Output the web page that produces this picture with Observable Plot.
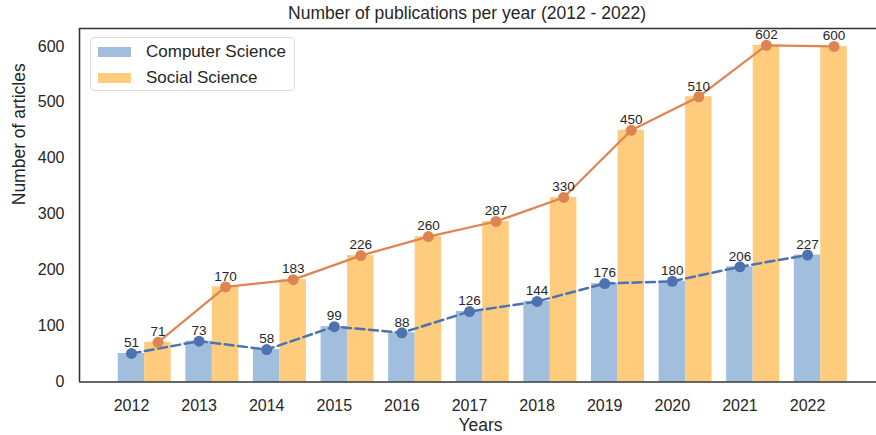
<!DOCTYPE html>
<html>
<head>
<meta charset="utf-8">
<script src="https://cdn.jsdelivr.net/npm/d3@7"></script>
<script src="https://cdn.jsdelivr.net/npm/@observablehq/plot@0.6"></script>
<style>
  html, body { margin: 0; padding: 0; background: #fff; }
  #wrap { position: relative; width: 876px; height: 435px; font-family: "Liberation Sans", Arial, sans-serif; }
  #legend { position: absolute; left: 90px; top: 37px; width: 205px; height: 54px; box-sizing: border-box;
    border: 1px solid #dcdcdc; border-radius: 4px; background: rgba(255,255,255,0.85); }
  .item { position: absolute; left: 0; display: flex; align-items: center; font-size: 17px; color: #262626; }
  .patch { width: 33px; height: 10px; margin-left: 7px; margin-right: 15px; }
</style>
</head>
<body>
<div id="wrap"></div>
<script>
const years = [2012, 2013, 2014, 2015, 2016, 2017, 2018, 2019, 2020, 2021, 2022];
const computerScience = [51, 73, 58, 99, 88, 126, 144, 176, 180, 206, 227];
const socialScience = [71, 170, 183, 226, 260, 287, 330, 450, 510, 602, 600];
const yTicks = [0, 100, 200, 300, 400, 500, 600];
const seriesNames = ["Computer Science", "Social Science"];
const title = "Number of publications per year (2012 - 2022)";

const barColor = {"Computer Science": "#a1bfdd", "Social Science": "#fecc7c"};
const lineColor = {"Computer Science": "#4c72b0", "Social Science": "#dd8452"};

const half = 0.196; // half bar width in year units
const xDomain = [2011.231, 2023.02];
const yDomain = [0, 632];

const cs = years.map((year, i) => ({year, value: computerScience[i], x1: year - half, x2: year + half, xc: year}));
const ss = years.map((year, i) => ({year, value: socialScience[i], x1: year + half, x2: year + 3 * half, xc: year + 2 * half}));

const font = "Liberation Sans, Arial, sans-serif";
const ink = "#262626";

const chart = Plot.plot({
  width: 876,
  height: 435,
  marginLeft: 79,
  marginRight: 0,
  marginTop: 28,
  marginBottom: 53.5,
  style: {fontFamily: font, color: ink, background: "#fff"},
  x: {type: "linear", domain: xDomain, axis: null},
  y: {type: "linear", domain: yDomain, axis: null},
  marks: [
    Plot.rectY(cs, {x1: "x1", x2: "x2", y1: 0, y2: "value", fill: barColor["Computer Science"]}),
    Plot.rectY(ss, {x1: "x1", x2: "x2", y1: 0, y2: "value", fill: barColor["Social Science"]}),
    Plot.line(cs, {x: "xc", y: "value", stroke: lineColor["Computer Science"], strokeWidth: 2.5, strokeDasharray: "9,4.5"}),
    Plot.line(ss, {x: "xc", y: "value", stroke: lineColor["Social Science"], strokeWidth: 2.2}),
    Plot.dot(cs, {x: "xc", y: "value", r: 5.5, fill: lineColor["Computer Science"]}),
    Plot.dot(ss, {x: "xc", y: "value", r: 5.5, fill: lineColor["Social Science"]}),
    Plot.text(cs, {x: "xc", y: "value", text: d => String(d.value), dy: -10.5, fontSize: 13.5, fill: ink}),
    Plot.text(ss, {x: "xc", y: "value", text: d => String(d.value), dy: -10.5, fontSize: 13.5, fill: ink}),
    Plot.ruleY([yDomain[0]], {stroke: "#333", strokeWidth: 1.6}),
    Plot.ruleY([yDomain[1]], {stroke: "#333", strokeWidth: 1.6}),
    Plot.ruleX([xDomain[0]], {stroke: "#333", strokeWidth: 1.6}),
    // tick labels
    Plot.text(years, {x: d => d, frameAnchor: "bottom", lineAnchor: "middle", dy: 23.5, fontSize: 16, fill: ink, text: d => String(d)}),
    Plot.text(yTicks, {y: d => d, frameAnchor: "left", textAnchor: "end", lineAnchor: "middle", dx: -15, fontSize: 16, fill: ink, text: d => String(d)}),
    // axis labels and title
    Plot.text(["Years"], {frameAnchor: "bottom", lineAnchor: "middle", dx: 2.5, dy: 43, fontSize: 17.5, fill: ink}),
    Plot.text(["Number of articles"], {frameAnchor: "left", lineAnchor: "middle", rotate: -90, dx: -60, fontSize: 17.5, fill: ink}),
    Plot.text([title], {frameAnchor: "top", lineAnchor: "middle", dx: -11, dy: -15.5, fontSize: 17.5, fill: ink})
  ]
});

const wrap = document.getElementById("wrap");
wrap.appendChild(chart);

const legend = document.createElement("div");
legend.id = "legend";
seriesNames.forEach((name, i) => {
  const item = document.createElement("div");
  item.className = "item";
  item.style.top = (i === 0 ? 3 : 29) + "px";
  item.style.height = "22px";
  const patch = document.createElement("span");
  patch.className = "patch";
  patch.style.background = barColor[name];
  const label = document.createElement("span");
  label.textContent = name;
  item.appendChild(patch);
  item.appendChild(label);
  legend.appendChild(item);
});
wrap.appendChild(legend);
</script>
</body>
</html>
